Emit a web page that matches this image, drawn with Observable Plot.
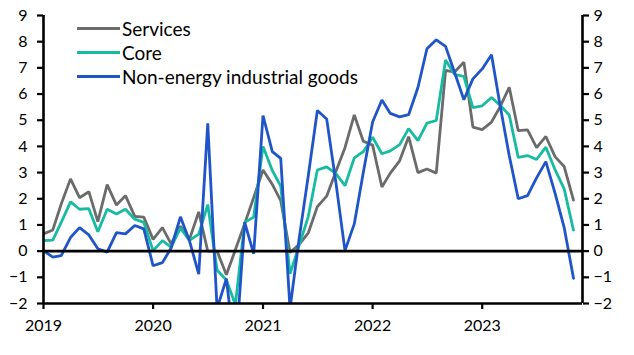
<!DOCTYPE html>
<html>
<head>
<meta charset="utf-8">
<script src="https://cdn.jsdelivr.net/npm/d3@7"></script>
<script src="https://cdn.jsdelivr.net/npm/@observablehq/plot@0.6"></script>
<style>
  html, body { margin: 0; padding: 0; background: #fff; }
  #wrap { position: relative; width: 634px; height: 355px; font-family: Lato, sans-serif; }
  #legend { position: absolute; left: 77px; top: 16px; font-size: 19px; color: #000; }
  .row { display: flex; align-items: center; height: 24px; }
  .sw { width: 43px; height: 3px; margin-right: 2px; }
</style>
</head>
<body>
<div id="wrap"><div id="legend"></div></div>
<script>
const seriesNames = ["Services", "Core", "Non-energy industrial goods"];
const colors = ["#6b6b6b", "#17bba2", "#1f55c8"];
const startMonth = new Date(Date.UTC(2019, 0, 1));
const yTicks = [-2, -1, 0, 1, 2, 3, 4, 5, 6, 7, 8, 9];
const xTicks = [2019, 2020, 2021, 2022, 2023];

const services = [0.66, 0.81, 1.8, 2.76, 2.04, 2.27, 1.13, 2.54, 1.76, 2.12, 1.33, 1.3,
  0.45, 0.9, 0.28, 0.95, 0.45, 1.5, 0.0, 0.0, -0.9, 0.05, 1.05, 2.05,
  3.1, 2.55, 1.93, -0.05, 0.25, 0.7, 1.7, 2.1, 3.05, 3.95, 5.2, 4.2,
  4.05, 2.45, 2.98, 3.45, 4.37, 3.0, 3.14, 2.98, 6.9, 6.84, 7.22, 4.74,
  4.64, 4.93, 5.5, 6.26, 4.6, 4.63, 3.95, 4.38, 3.6, 3.23, 1.95];
const core = [0.4, 0.42, 1.1, 1.88, 1.6, 1.62, 0.74, 1.6, 1.42, 1.6, 1.22, 1.1,
  0.02, 0.4, 0.15, 0.88, 0.41, 0.65, 1.78, -0.72, -1.1, -2.05, 1.1, 1.3,
  4.0, 3.08, 2.48, -0.87, 0.2, 1.33, 3.1, 3.22, 2.96, 2.5, 3.56, 3.8,
  4.35, 3.72, 3.83, 4.07, 4.68, 4.22, 4.89, 4.99, 7.3, 6.75, 6.67, 5.48,
  5.55, 5.87, 5.58, 5.2, 3.58, 3.65, 3.5, 3.97, 3.1, 2.38, 0.8];
const goods = [0.02, -0.23, -0.17, 0.52, 0.9, 0.62, 0.09, -0.04, 0.71, 0.66, 0.98, 0.85,
  -0.56, -0.44, 0.12, 1.31, 0.4, -0.88, 4.88, -2.2, -1.05, -4.0, 1.1, -0.1,
  5.18, 3.8, 3.54, -2.2, 0.45, 2.9, 5.37, 5.05, 2.6, 0.02, 1.04, 3.0,
  4.93, 5.77, 5.26, 5.13, 5.21, 6.25, 7.73, 8.07, 7.82, 6.82, 5.78, 6.58,
  6.96, 7.5, 5.6, 3.65, 2.0, 2.12, 2.8, 3.42, 2.2, 0.9, -1.04];

const seriesValues = [services, core, goods];
const data = [];
seriesValues.forEach((vals, i) => {
  vals.forEach((v, m) => {
    data.push({series: seriesNames[i], date: d3.utcMonth.offset(startMonth, m), value: v});
  });
});

const xDomain = [new Date(Date.UTC(2019, 0, 1)), new Date(Date.UTC(2023, 11, 1))];
const yDomain = [-2, 9];
const xTickDates = xTicks.map(y => new Date(Date.UTC(y, 0, 1)));

const chart = Plot.plot({
  width: 634,
  height: 355,
  marginLeft: 43,
  marginRight: 52,
  marginTop: 15,
  marginBottom: 52,
  style: {fontFamily: "Lato, sans-serif", fontSize: "16px", color: "#000", background: "#fff", overflow: "visible"},
  x: {type: "utc", domain: xDomain},
  y: {domain: yDomain},
  color: {domain: seriesNames, range: colors},
  marks: [
    Plot.lineY(data, {x: "date", y: "value", z: "series", stroke: "series", strokeWidth: 2.8, clip: true, strokeLinejoin: "miter"}),
    Plot.ruleY([0], {stroke: "#000", strokeWidth: 2.6}),
    Plot.ruleY([yDomain[0]], {stroke: "#000", strokeWidth: 2.6}),
    Plot.ruleX([xDomain[0]], {stroke: "#000", strokeWidth: 2.6}),
    Plot.ruleX([xDomain[1]], {stroke: "#000", strokeWidth: 2.6}),
    Plot.axisY(yTicks, {anchor: "left", tickSize: 6, tickPadding: 10, strokeWidth: 2.2, label: null, fontSize: 16}),
    Plot.axisY(yTicks, {anchor: "right", tickSize: 6, tickPadding: 5, strokeWidth: 2.2, label: null, fontSize: 16}),
    Plot.axisX(xTickDates, {anchor: "bottom", tickSize: 6, tickPadding: 10, strokeWidth: 2.2, label: null, fontSize: 16, tickFormat: d3.utcFormat("%Y")})
  ]
});
document.getElementById("wrap").prepend(chart);

const legend = document.getElementById("legend");
seriesNames.forEach((name, i) => {
  const row = document.createElement("div");
  row.className = "row";
  const sw = document.createElement("div");
  sw.className = "sw";
  sw.style.background = colors[i];
  const t = document.createElement("span");
  t.textContent = name;
  row.appendChild(sw);
  row.appendChild(t);
  legend.appendChild(row);
});
</script>
</body>
</html>
